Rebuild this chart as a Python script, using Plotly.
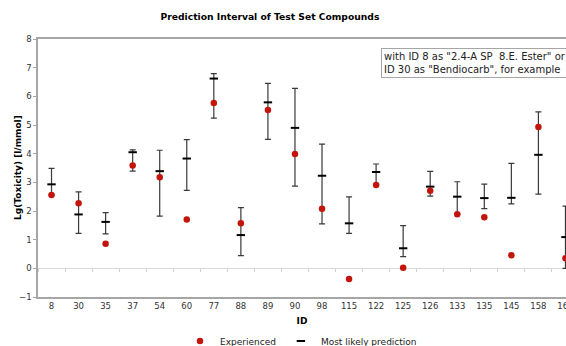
import plotly.graph_objects as go

ids = ["8", "30", "35", "37", "54", "60", "77", "88", "89", "90", "98", "115",
       "122", "125", "126", "133", "135", "145", "158", "160"]
experienced = [2.56, 2.27, 0.86, 3.59, 3.18, 1.70, 5.77, 1.57, 5.52, 3.99, 2.08, -0.37,
               2.91, 0.02, 2.71, 1.89, 1.78, 0.46, 4.93, 0.35]
predicted = [2.93, 1.88, 1.62, 4.05, 3.39, 3.83, 6.62, 1.16, 5.79, 4.90, 3.23, 1.57,
             3.36, 0.70, 2.85, 2.50, 2.45, 2.46, 3.96, 1.09]
upper = [3.49, 2.67, 1.94, 4.13, 4.12, 4.49, 6.79, 2.12, 6.45, 6.28, 4.33, 2.49,
         3.64, 1.49, 3.38, 3.02, 2.94, 3.66, 5.46, 2.17]
lower = [2.56, 1.22, 1.20, 3.39, 1.82, 2.72, 5.24, 0.44, 4.50, 2.87, 1.55, 1.22,
         2.91, 0.41, 2.52, 1.90, 2.08, 2.25, 2.59, 0.00]

xs = list(range(len(ids)))
err_plus = [u - p for u, p in zip(upper, predicted)]
err_minus = [p - l for p, l in zip(predicted, lower)]

FONT = "DejaVu Sans"
XMAX = 19.02

fig = go.Figure()
fig.add_trace(go.Scatter(
    x=xs, y=predicted, mode="markers", name="Most likely prediction",
    marker=dict(symbol="line-ew", size=6, color="black",
                line=dict(width=2, color="black")),
    error_y=dict(type="data", symmetric=False, array=err_plus, arrayminus=err_minus,
                 color="#3a3a3a", thickness=1.2, width=3),
    cliponaxis=False,
))
fig.add_trace(go.Scatter(
    x=xs, y=experienced, mode="markers", name="Experienced",
    marker=dict(symbol="circle", size=6.5, color="#c4150c"),
))
# invisible trace on secondary x-axis for category divider ticks at y=0
fig.add_trace(go.Scatter(x=[-0.5], y=[0], xaxis="x2", mode="markers",
                         marker=dict(opacity=0), showlegend=False, hoverinfo="skip"))

fig.update_layout(
    width=566, height=346,
    margin=dict(l=38, r=0, t=39, b=49),
    plot_bgcolor="white", paper_bgcolor="white",
    font=dict(family=FONT, size=9, color="#222"),
    title=dict(text="<b>Prediction Interval of Test Set Compounds</b>",
               x=0.477, xanchor="center", y=1 - 17 / 346, yanchor="middle",
               yref="container", font=dict(family=FONT, size=9.2, color="black")),
    xaxis=dict(range=[-0.5, XMAX], tickmode="array", tickvals=xs, ticktext=ids,
               showgrid=False, zeroline=False, showline=True, linecolor="#a6a6a6",
               linewidth=1.5, mirror=True, ticks="", tickfont=dict(size=8.5, color="#333"),
               automargin=False, ticklabeloverflow="allow",
               title=dict(text="<b>ID</b>", font=dict(size=9, color="black"), standoff=9)),
    xaxis2=dict(overlaying="x", anchor="free", position=1 / 9, side="bottom",
                range=[-0.5, XMAX], tickmode="array",
                tickvals=[i - 0.5 for i in range(len(ids) + 1)],
                showticklabels=False, ticks="outside", ticklen=3, tickcolor="#cfcfcf",
                showgrid=False, zeroline=False, showline=False, automargin=False),
    yaxis=dict(range=[-1, 8], dtick=1, showgrid=False, zeroline=True,
               zerolinecolor="#d9d9d9", zerolinewidth=1, showline=True,
               linecolor="#a6a6a6", linewidth=1.5, mirror=True, ticks="outside",
               ticklen=3, tickcolor="#a6a6a6", tickfont=dict(size=8.5, color="#333"),
               automargin=False),
    legend=dict(orientation="h", x=301 / 566, xanchor="center", xref="container",
                y=1 - 341 / 346, yanchor="middle", yref="container",
                traceorder="reversed", font=dict(size=9, color="#222"),
                itemwidth=30, tracegroupgap=0),
    showlegend=True,
    annotations=[
        dict(text='with ID 8 as "2.4-A SP\u00a0 8.E. Ester" or<br>ID 30 as "Bendiocarb", for example',
             xref="paper", yref="paper", x=0.65, y=0.965, xanchor="left", yanchor="top",
             showarrow=False, align="left", bordercolor="#a6a6a6", borderwidth=1,
             borderpad=2, bgcolor="white", font=dict(family=FONT, size=10, color="#222")),
        dict(text="<b>Lg(Toxicity) [l/mmol]</b>", textangle=-90,
             xref="paper", yref="paper", x=(18 - 38) / 528, y=0.5,
             xanchor="center", yanchor="middle", showarrow=False,
             font=dict(family=FONT, size=9, color="black")),
    ],
)

fig.write_html("out.html")
